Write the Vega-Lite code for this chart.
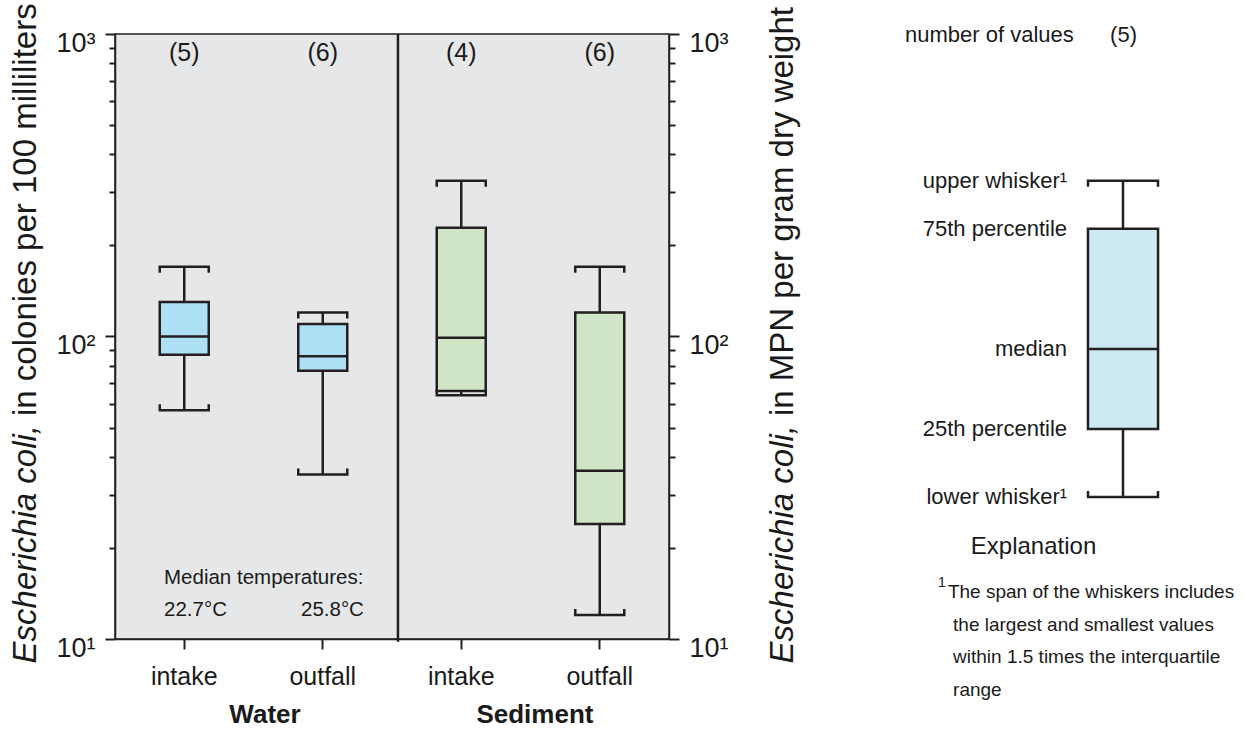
{
  "$schema": "https://vega.github.io/schema/vega-lite/v6.json",
  "width": 554,
  "height": 605,
  "autosize": {"type": "none"},
  "padding": {"left": 115, "top": 34, "right": 577, "bottom": 92},
  "background": "white",
  "config": {
    "font": "Liberation Sans",
    "view": {"fill": "#e6e7e8", "stroke": "#231f20", "strokeWidth": 1.5},
    "text": {"font": "Liberation Sans", "color": "#1a1a1a"},
    "axis": {
      "domainColor": "#231f20", "domainWidth": 1.5,
      "tickColor": "#231f20", "tickWidth": 2,
      "labelColor": "#1a1a1a", "labelFont": "Liberation Sans",
      "grid": false, "title": null,
      "labelOverlap": false, "labelFlush": false, "labelBound": false
    }
  },
  "data": {"values": [{}]},
  "datasets": {
    "boxes": [
      {"medium": "Water", "site": "intake", "key": "Water intake", "n": 5, "lower": 57, "q1": 87, "median": 100, "q3": 130, "upper": 170},
      {"medium": "Water", "site": "outfall", "key": "Water outfall", "n": 6, "lower": 35, "q1": 77, "median": 86, "q3": 110, "upper": 120},
      {"medium": "Sediment", "site": "intake", "key": "Sediment intake", "n": 4, "lower": 64, "q1": 66, "median": 99, "q3": 229, "upper": 327},
      {"medium": "Sediment", "site": "outfall", "key": "Sediment outfall", "n": 6, "lower": 12, "q1": 24, "median": 36, "q3": 120, "upper": 170}
    ],
    "explanation": [
      {"n": 5, "lower": 29.5, "q1": 49.5, "median": 91, "q3": 227, "upper": 327}
    ],
    "explanationLabels": [
      {"label": "upper whisker¹", "value": 327},
      {"label": "75th percentile", "value": 227},
      {"label": "median", "value": 91},
      {"label": "25th percentile", "value": 49.5},
      {"label": "lower whisker¹", "value": 29.5}
    ]
  },
  "resolve": {"scale": {"x": "independent"}, "axis": {"y": "independent"}},
  "layer": [
    {
      "data": {"name": "boxes"},
      "mark": {"type": "rule", "stroke": "#231f20", "strokeWidth": 2.5},
      "encoding": {
        "x": {
          "field": "key", "type": "nominal", "sort": null,
          "scale": {"domain": ["Water intake", "Water outfall", "Sediment intake", "Sediment outfall"], "paddingInner": 0, "paddingOuter": 0},
          "axis": {
            "orient": "bottom", "labelExpr": "split(datum.label, ' ')[1]", "labelAngle": 0,
            "tickSize": 10, "labelFontSize": 25, "labelPadding": 15, "labelBaseline": "top"
          }
        },
        "y": {
          "field": "lower", "type": "quantitative",
          "scale": {"type": "log", "domain": [10, 1000], "nice": false},
          "axis": {
            "orient": "left",
            "values": [10, 20, 30, 40, 50, 60, 70, 80, 90, 100, 200, 300, 400, 500, 600, 700, 800, 900, 1000],
            "labelExpr": "datum.value == 10 ? '10¹' : datum.value == 100 ? '10²' : datum.value == 1000 ? '10³' : ''",
            "tickSize": {"condition": {"test": "datum.value == 10 || datum.value == 100 || datum.value == 1000", "value": 10}, "value": 6},
            "labelFontSize": 27, "labelBaseline": "alphabetic", "labelOffset": 17, "labelPadding": 10
          }
        },
        "y2": {"field": "upper"}
      }
    },
    {
      "data": {"name": "boxes"},
      "mark": {"type": "bar", "width": 49, "stroke": "#231f20", "strokeWidth": 2.5},
      "encoding": {
        "x": {
          "field": "key", "type": "nominal", "sort": null,
          "scale": {"domain": ["Water intake", "Water outfall", "Sediment intake", "Sediment outfall"], "paddingInner": 0, "paddingOuter": 0},
          "axis": null
        },
        "y": {
          "field": "q1", "type": "quantitative",
          "axis": {
            "orient": "right",
            "values": [10, 20, 30, 40, 50, 60, 70, 80, 90, 100, 200, 300, 400, 500, 600, 700, 800, 900, 1000],
            "labelExpr": "datum.value == 10 ? '10¹' : datum.value == 100 ? '10²' : datum.value == 1000 ? '10³' : ''",
            "tickSize": {"condition": {"test": "datum.value == 10 || datum.value == 100 || datum.value == 1000", "value": 10}, "value": 6},
            "labelFontSize": 27, "labelBaseline": "alphabetic", "labelOffset": 17, "labelPadding": 10
          }
        },
        "y2": {"field": "q3"},
        "color": {
          "field": "medium", "type": "nominal",
          "scale": {"domain": ["Water", "Sediment"], "range": ["#aee0f5", "#cfe5c5"]},
          "legend": null
        }
      }
    },
    {
      "data": {"name": "boxes"},
      "mark": {"type": "point", "shape": "M-1,0L1,0", "size": 2401, "filled": false, "stroke": "#231f20", "strokeWidth": 2.5, "opacity": 1},
      "encoding": {
        "x": {
          "field": "key", "type": "nominal", "sort": null,
          "scale": {"domain": ["Water intake", "Water outfall", "Sediment intake", "Sediment outfall"], "paddingInner": 0, "paddingOuter": 0},
          "axis": null
        },
        "y": {"field": "median", "type": "quantitative", "axis": null}
      }
    },
    {
      "data": {"name": "boxes"},
      "mark": {"type": "point", "shape": "M-1,0.245L-1,0L1,0L1,0.245", "size": 2401, "filled": false, "stroke": "#231f20", "strokeWidth": 2.5, "opacity": 1},
      "encoding": {
        "x": {
          "field": "key", "type": "nominal", "sort": null,
          "scale": {"domain": ["Water intake", "Water outfall", "Sediment intake", "Sediment outfall"], "paddingInner": 0, "paddingOuter": 0},
          "axis": null
        },
        "y": {"field": "upper", "type": "quantitative", "axis": null}
      }
    },
    {
      "data": {"name": "boxes"},
      "mark": {"type": "point", "shape": "M-1,-0.245L-1,0L1,0L1,-0.245", "size": 2401, "filled": false, "stroke": "#231f20", "strokeWidth": 2.5, "opacity": 1},
      "encoding": {
        "x": {
          "field": "key", "type": "nominal", "sort": null,
          "scale": {"domain": ["Water intake", "Water outfall", "Sediment intake", "Sediment outfall"], "paddingInner": 0, "paddingOuter": 0},
          "axis": null
        },
        "y": {"field": "lower", "type": "quantitative", "axis": null}
      }
    },
    {
      "data": {"name": "boxes"},
      "transform": [{"calculate": "'(' + datum.n + ')'", "as": "countLabel"}],
      "mark": {"type": "text", "fontSize": 25, "align": "center", "baseline": "alphabetic"},
      "encoding": {
        "x": {
          "field": "key", "type": "nominal", "sort": null,
          "scale": {"domain": ["Water intake", "Water outfall", "Sediment intake", "Sediment outfall"], "paddingInner": 0, "paddingOuter": 0},
          "axis": null
        },
        "y": {"datum": 814, "type": "quantitative", "axis": null},
        "text": {"field": "countLabel"}
      }
    },
    {
      "mark": {"type": "rule", "stroke": "#231f20", "strokeWidth": 2.5},
      "encoding": {
        "x": {"datum": 2.043, "type": "quantitative", "scale": {"domain": [0, 4], "nice": false, "zero": false}, "axis": null},
        "y": {"datum": 1000, "type": "quantitative", "axis": null},
        "y2": {"datum": 9.8}
      }
    },
    {
      "mark": {"type": "text", "text": "Median temperatures:", "align": "left", "baseline": "alphabetic", "fontSize": 20.5},
      "encoding": {
        "x": {"datum": 0.354, "type": "quantitative", "scale": {"domain": [0, 4], "nice": false, "zero": false}, "axis": null},
        "y": {"datum": 15.19, "type": "quantitative", "axis": null}
      }
    },
    {
      "mark": {"type": "text", "text": "22.7°C", "align": "left", "baseline": "alphabetic", "fontSize": 20.5},
      "encoding": {
        "x": {"datum": 0.354, "type": "quantitative", "scale": {"domain": [0, 4], "nice": false, "zero": false}, "axis": null},
        "y": {"datum": 11.91, "type": "quantitative", "axis": null}
      }
    },
    {
      "mark": {"type": "text", "text": "25.8°C", "align": "left", "baseline": "alphabetic", "fontSize": 20.5},
      "encoding": {
        "x": {"datum": 1.343, "type": "quantitative", "scale": {"domain": [0, 4], "nice": false, "zero": false}, "axis": null},
        "y": {"datum": 11.91, "type": "quantitative", "axis": null}
      }
    },
    {
      "mark": {"type": "text", "text": "Water", "align": "center", "baseline": "alphabetic", "fontSize": 26, "fontWeight": "bold"},
      "encoding": {
        "x": {"datum": 1.083, "type": "quantitative", "scale": {"domain": [0, 4], "nice": false, "zero": false}, "axis": null},
        "y": {"datum": 5.27, "type": "quantitative", "axis": null}
      }
    },
    {
      "mark": {"type": "text", "text": "Sediment", "align": "center", "baseline": "alphabetic", "fontSize": 26, "fontWeight": "bold"},
      "encoding": {
        "x": {"datum": 3.032, "type": "quantitative", "scale": {"domain": [0, 4], "nice": false, "zero": false}, "axis": null},
        "y": {"datum": 5.27, "type": "quantitative", "axis": null}
      }
    },
    {
      "mark": {"type": "text", "text": "Escherichia coli,", "angle": 270, "align": "right", "baseline": "alphabetic", "fontSize": 33, "fontStyle": "italic"},
      "encoding": {
        "x": {"datum": -0.570, "type": "quantitative", "scale": {"domain": [0, 4], "nice": false, "zero": false}, "axis": null},
        "y": {"datum": 51.0, "type": "quantitative", "axis": null}
      }
    },
    {
      "mark": {"type": "text", "text": "in colonies per 100 milliliters", "angle": 270, "align": "left", "baseline": "alphabetic", "fontSize": 33},
      "encoding": {
        "x": {"datum": -0.570, "type": "quantitative", "scale": {"domain": [0, 4], "nice": false, "zero": false}, "axis": null},
        "y": {"datum": 54.6, "type": "quantitative", "axis": null}
      }
    },
    {
      "mark": {"type": "text", "text": "Escherichia coli,", "angle": 270, "align": "right", "baseline": "alphabetic", "fontSize": 33, "fontStyle": "italic"},
      "encoding": {
        "x": {"datum": 4.895, "type": "quantitative", "scale": {"domain": [0, 4], "nice": false, "zero": false}, "axis": null},
        "y": {"datum": 51.0, "type": "quantitative", "axis": null}
      }
    },
    {
      "mark": {"type": "text", "text": "in MPN per gram dry weight", "angle": 270, "align": "left", "baseline": "alphabetic", "fontSize": 33},
      "encoding": {
        "x": {"datum": 4.895, "type": "quantitative", "scale": {"domain": [0, 4], "nice": false, "zero": false}, "axis": null},
        "y": {"datum": 54.6, "type": "quantitative", "axis": null}
      }
    },
    {
      "mark": {"type": "text", "text": "number of values", "align": "left", "baseline": "alphabetic", "fontSize": 22},
      "encoding": {
        "x": {"datum": 5.704, "type": "quantitative", "scale": {"domain": [0, 4], "nice": false, "zero": false}, "axis": null},
        "y": {"datum": 943, "type": "quantitative", "axis": null}
      }
    },
    {
      "data": {"name": "explanation"},
      "transform": [{"calculate": "'(' + datum.n + ')'", "as": "countLabel"}],
      "mark": {"type": "text", "align": "center", "baseline": "alphabetic", "fontSize": 22},
      "encoding": {
        "x": {"datum": 7.282, "type": "quantitative", "scale": {"domain": [0, 4], "nice": false, "zero": false}, "axis": null},
        "y": {"datum": 943, "type": "quantitative", "axis": null},
        "text": {"field": "countLabel"}
      }
    },
    {
      "data": {"name": "explanation"},
      "mark": {"type": "rule", "stroke": "#231f20", "strokeWidth": 2.5},
      "encoding": {
        "x": {"datum": 7.278, "type": "quantitative", "scale": {"domain": [0, 4], "nice": false, "zero": false}, "axis": null},
        "y": {"field": "lower", "type": "quantitative", "axis": null},
        "y2": {"field": "upper"}
      }
    },
    {
      "data": {"name": "explanation"},
      "mark": {"type": "bar", "fill": "#cde9f1", "stroke": "#231f20", "strokeWidth": 2.5},
      "encoding": {
        "x": {"datum": 7.025, "type": "quantitative", "scale": {"domain": [0, 4], "nice": false, "zero": false}, "axis": null},
        "x2": {"datum": 7.531},
        "y": {"field": "q1", "type": "quantitative", "axis": null},
        "y2": {"field": "q3"}
      }
    },
    {
      "data": {"name": "explanation"},
      "mark": {"type": "point", "shape": "M-1,0L1,0", "size": 4900, "filled": false, "stroke": "#231f20", "strokeWidth": 2.5, "opacity": 1},
      "encoding": {
        "x": {"datum": 7.278, "type": "quantitative", "scale": {"domain": [0, 4], "nice": false, "zero": false}, "axis": null},
        "y": {"field": "median", "type": "quantitative", "axis": null}
      }
    },
    {
      "data": {"name": "explanation"},
      "mark": {"type": "point", "shape": "M-1,0.17L-1,0L1,0L1,0.17", "size": 4900, "filled": false, "stroke": "#231f20", "strokeWidth": 2.5, "opacity": 1},
      "encoding": {
        "x": {"datum": 7.278, "type": "quantitative", "scale": {"domain": [0, 4], "nice": false, "zero": false}, "axis": null},
        "y": {"field": "upper", "type": "quantitative", "axis": null}
      }
    },
    {
      "data": {"name": "explanation"},
      "mark": {"type": "point", "shape": "M-1,-0.17L-1,0L1,0L1,-0.17", "size": 4900, "filled": false, "stroke": "#231f20", "strokeWidth": 2.5, "opacity": 1},
      "encoding": {
        "x": {"datum": 7.278, "type": "quantitative", "scale": {"domain": [0, 4], "nice": false, "zero": false}, "axis": null},
        "y": {"field": "lower", "type": "quantitative", "axis": null}
      }
    },
    {
      "data": {"name": "explanationLabels"},
      "mark": {"type": "text", "align": "right", "baseline": "middle", "fontSize": 22},
      "encoding": {
        "x": {"datum": 6.874, "type": "quantitative", "scale": {"domain": [0, 4], "nice": false, "zero": false}, "axis": null},
        "y": {"field": "value", "type": "quantitative", "axis": null},
        "text": {"field": "label"}
      }
    },
    {
      "mark": {"type": "text", "text": "Explanation", "align": "center", "baseline": "alphabetic", "fontSize": 24},
      "encoding": {
        "x": {"datum": 6.632, "type": "quantitative", "scale": {"domain": [0, 4], "nice": false, "zero": false}, "axis": null},
        "y": {"datum": 19.05, "type": "quantitative", "axis": null}
      }
    },
    {
      "mark": {"type": "text", "text": "1", "align": "left", "baseline": "alphabetic", "fontSize": 14},
      "encoding": {
        "x": {"datum": 5.942, "type": "quantitative", "scale": {"domain": [0, 4], "nice": false, "zero": false}, "axis": null},
        "y": {"datum": 14.86, "type": "quantitative", "axis": null}
      }
    },
    {
      "mark": {"type": "text", "text": "The span of the whiskers includes", "align": "left", "baseline": "alphabetic", "fontSize": 19},
      "encoding": {
        "x": {"datum": 6.014, "type": "quantitative", "scale": {"domain": [0, 4], "nice": false, "zero": false}, "axis": null},
        "y": {"datum": 13.63, "type": "quantitative", "axis": null}
      }
    },
    {
      "mark": {"type": "text", "text": ["the largest and smallest values", "within 1.5 times the interquartile", "range"], "align": "left", "baseline": "alphabetic", "fontSize": 19, "lineHeight": 32.5},
      "encoding": {
        "x": {"datum": 6.051, "type": "quantitative", "scale": {"domain": [0, 4], "nice": false, "zero": false}, "axis": null},
        "y": {"datum": 10.65, "type": "quantitative", "axis": null}
      }
    }
  ]
}
